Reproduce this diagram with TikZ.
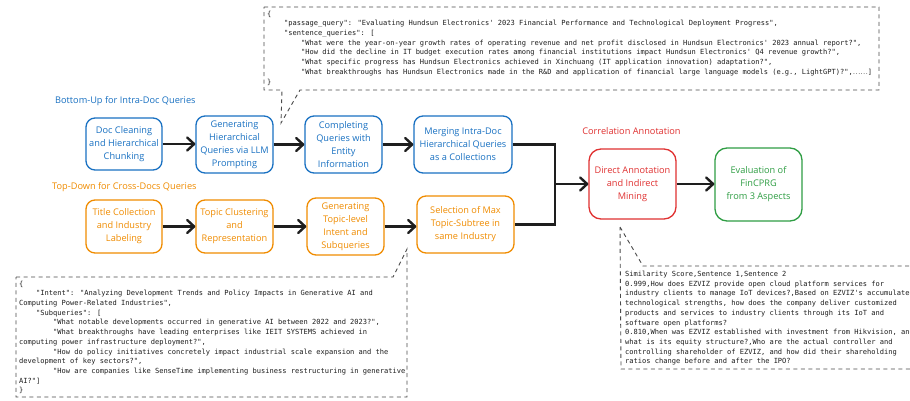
\documentclass[tikz,border=0pt]{standalone}
\usepackage{fontspec}
\newfontfamily\uifont{Open Sans}
\newfontfamily\codefont{DejaVu Sans Mono}[Ligatures=TeXOff]
\newfontfamily\cjk{Noto Sans CJK SC}
\usetikzlibrary{arrows.meta}
\definecolor{exblue}{HTML}{1971C2}
\definecolor{exorange}{HTML}{F08C00}
\definecolor{exred}{HTML}{E03131}
\definecolor{exgreen}{HTML}{2F9E44}
\definecolor{ink}{HTML}{1E1E1E}
\definecolor{dashc}{HTML}{4A4A4A}
\newcommand\indf{\hphantom{0000}}
\newcommand\inde{\hphantom{00000000}}
\begin{document}
\begin{tikzpicture}[x=1pt,y=-1pt,
  box/.style={draw, line width=1.3pt, rounded corners=9pt, align=center, inner sep=0pt, font=\uifont\fontsize{9.2}{13}\selectfont},
  lab/.style={font=\uifont\fontsize{9.2}{13}\selectfont, inner sep=0pt},
  arr/.style={line width=2.4pt, draw=ink, -{Straight Barb[length=7pt,width=13pt,round]}},
  link/.style={line width=2.4pt, draw=ink},
  callout/.style={draw=dashc, line width=0.9pt, dash pattern=on 4pt off 3.5pt},
  code/.style={font=\codefont\fontsize{7.05}{9.7}\selectfont, align=left, inner sep=0pt, text=ink, anchor=north west}]
\fill[white] (0,0) rectangle (910,401);
\useasboundingbox (0,0) rectangle (910,401);

% section labels
\node[lab, text=exblue, anchor=west] (lbu) at (55,101) {Bottom-Up for Intra-Doc Queries};
\node[lab, text=exorange, anchor=west] (ltd) at (52,187) {Top-Down for Cross-Docs Queries};
\node[lab, text=exred] (lca) at (631.5,131) {Correlation Annotation};

% blue row
\node[box, draw=exblue, text=exblue, minimum width=76pt, minimum height=52pt] (b1) at (124,144) {Doc Cleaning\\and Hierarchical\\Chunking};
\node[box, draw=exblue, text=exblue, minimum width=77pt, minimum height=57pt] (b2) at (234.5,144.5) {Generating\\Hierarchical\\Queries via LLM\\Prompting};
\node[box, draw=exblue, text=exblue, minimum width=77pt, minimum height=57pt] (b3) at (343.5,144.5) {Completing\\Queries with\\Entity\\Information};
\node[box, draw=exblue, text=exblue, minimum width=98pt, minimum height=57pt] (b4) at (463,144.5) {Merging Intra-Doc\\Hierarchical Queries\\as a Collections};

% orange row
\node[box, draw=exorange, text=exorange, minimum width=76pt, minimum height=53pt] (o1) at (124,226.5) {Title Collection\\and Industry\\Labeling};
\node[box, draw=exorange, text=exorange, minimum width=77pt, minimum height=53pt] (o2) at (234.5,226.5) {Topic Clustering\\and\\Representation};
\node[box, draw=exorange, text=exorange, minimum width=77pt, minimum height=57pt] (o3) at (345.5,226.5) {Generating\\Topic-level\\Intent and\\Subqueries};
\node[box, draw=exorange, text=exorange, minimum width=97pt, minimum height=57pt] (o4) at (465.5,224.5) {Selection of Max\\Topic-Subtree in\\same Industry};

% right boxes
\node[box, draw=exred, text=exred, rounded corners=12pt, minimum width=87pt, minimum height=70pt] (red) at (632.5,184) {Direct Annotation\\and Indirect\\Mining};
\node[box, draw=exgreen, text=exgreen, rounded corners=12pt, minimum width=87pt, minimum height=73pt] (green) at (758.5,184.5) {Evaluation of\\FinCPRG\\from 3 Aspects};

% connectors
\draw[arr] (b1.east) -- (b1.east -| b2.west);
\draw[arr] (b2.east) -- (b2.east -| b3.west);
\draw[arr] (b3.east) -- (b3.east -| b4.west);
\draw[arr] (o1.east) -- (o1.east -| o2.west);
\draw[arr] (o2.east) -- (o2.east -| o3.west);
\draw[arr] (o3.east) -- (o3.east -| o4.west);
\coordinate (j) at (555,184);
\draw[link] (b4.east) -- (b4.east -| j) -- (o4.east -| j) -- (o4.east);
\draw[arr] (j) -- (red.west);
\draw[arr] (red.east) -- (red.east -| green.west);

% top callout
\draw[callout] (264,7) -- (879,7) -- (879,90) -- (300,90) -- (281,123) -- (282,90) -- (264,90) -- cycle;
\node[code] (ctop) at (267,10.6) {\{\\
\indf"passage\_query": "Evaluating Hundsun Electronics' 2023 Financial Performance and Technological Deployment Progress",\\
\indf"sentence\_queries": [\\
\inde"What were the year-on-year growth rates of operating revenue and net profit disclosed in Hundsun Electronics' 2023 annual report?",\\
\inde"How did the decline in IT budget execution rates among financial institutions impact Hundsun Electronics' Q4 revenue growth?",\\
\inde"What specific progress has Hundsun Electronics achieved in Xinchuang (IT application innovation) adaptation?",\\
\inde"What breakthroughs has Hundsun Electronics made in the R\&D and application of financial large language models (e.g., LightGPT)?",{\cjk ……}]\\
\}};

% bottom-left callout
\draw[callout] (16,277) -- (393,277) -- (407,249) -- (407,397) -- (16,397) -- cycle;
\node[code] (cleft) at (19,280.6) {\{\\
\indf"Intent": "Analyzing Development Trends and Policy Impacts in Generative AI and\\
Computing Power-Related Industries",\\
\indf"Subqueries": [\\
\inde"What notable developments occurred in generative AI between 2022 and 2023?",\\
\inde"What breakthroughs have leading enterprises like IEIT SYSTEMS achieved in\\
computing power infrastructure deployment?",\\
\inde"How do policy initiatives concretely impact industrial scale expansion and the\\
development of key sectors?",\\
\inde"How are companies like SenseTime implementing business restructuring in generative\\
AI?"]\\
\}};

% right callout
\draw[callout] (620,227) -- (643,266) -- (916,266) -- (916,369) -- (621,369) -- cycle;
\node[code] (cright) at (625,271) {Similarity Score,Sentence 1,Sentence 2\\
0.999,How does EZVIZ provide open cloud platform services for\\
industry clients to manage IoT devices?,Based on EZVIZ's accumulated\\
technological strengths, how does the company deliver customized\\
products and services to industry clients through its IoT and\\
software open platforms?\\
0.810,When was EZVIZ established with investment from Hikvision, and\\
what is its equity structure?,Who are the actual controller and\\
controlling shareholder of EZVIZ, and how did their shareholding\\
ratios change before and after the IPO?};
\end{tikzpicture}
\end{document}
